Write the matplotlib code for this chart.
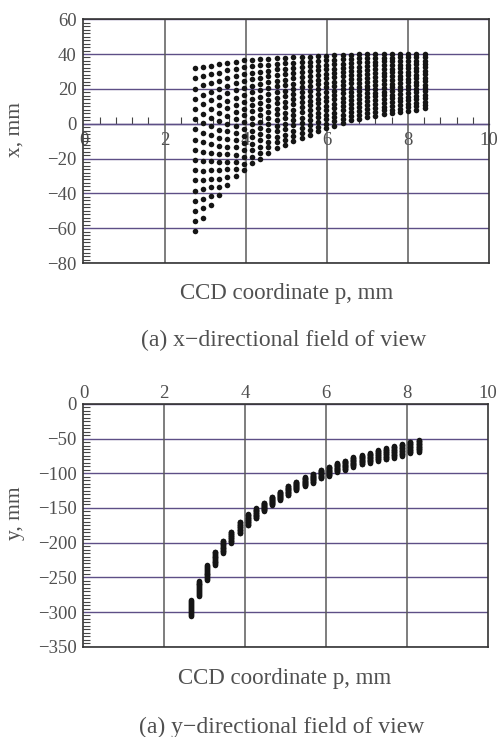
import numpy as np
import matplotlib
matplotlib.use("Agg")
import matplotlib.pyplot as plt
from matplotlib.ticker import MultipleLocator, AutoMinorLocator

# ---- data ----
# (a) x-directional field of view: one column of dots per CCD position p
p_x = [2.74, 2.94, 3.14, 3.35, 3.55, 3.75, 3.96, 4.16, 4.36, 4.56,
       4.77, 4.97, 5.17, 5.38, 5.58, 5.78, 5.98, 6.18, 6.39, 6.59,
       6.79, 7.00, 7.20, 7.40, 7.60, 7.81, 8.01, 8.21, 8.41]
x_top = [31.9, 32.8, 33.4, 34.0, 35.0, 35.5, 36.3, 36.7, 37.0, 37.3,
         37.6, 37.9, 38.1, 38.2, 38.5, 38.7, 38.9, 39.2, 39.4, 39.6,
         39.8, 40.0, 40.1, 40.1, 40.1, 40.1, 40.1, 40.1, 40.1]
x_bot = [-61.8, -54.0, -46.5, -40.8, -35.0, -30.0, -26.8, -22.6, -20.3, -17.0,
         -14.0, -12.5, -10.0, -8.0, -6.3, -4.4, -2.5, -1.2, 0.3, 1.9,
         2.6, 3.8, 4.5, 5.5, 6.0, 6.6, 7.4, 8.0, 8.8]

# (b) y-directional field of view: short bar of points per CCD position p
p_y = [2.66, 2.86, 3.06, 3.26, 3.46, 3.66, 3.87, 4.07, 4.27, 4.47,
       4.67, 4.87, 5.07, 5.27, 5.48, 5.68, 5.88, 6.08, 6.28, 6.48,
       6.68, 6.89, 7.09, 7.29, 7.49, 7.69, 7.89, 8.09, 8.30]
y_top = [-282.7, -254.8, -232.7, -213.0, -197.0, -184.0, -169.7, -158.7, -150.5, -142.3,
         -133.7, -126.4, -118.0, -112.0, -105.8, -101.0, -95.0, -90.4, -85.6, -81.7,
         -77.0, -73.6, -71.0, -66.3, -64.0, -60.6, -57.7, -54.3, -52.0]
y_bot = [-305.8, -276.9, -253.8, -232.0, -215.0, -200.0, -186.5, -175.0, -165.0, -153.8,
         -145.7, -138.5, -131.5, -124.0, -118.3, -113.5, -107.0, -103.8, -98.0, -95.0,
         -90.4, -87.0, -84.6, -81.7, -79.8, -77.4, -75.0, -71.0, -68.8]

n_rows = 17  # CCD rows per column

x_ticks = [0, 2, 4, 6, 8, 10]
xdir_ticks = [60, 40, 20, 0, -20, -40, -60, -80]
ydir_ticks = [0, -50, -100, -150, -200, -250, -300, -350]

plt.rcParams['font.family'] = ['Liberation Serif', 'DejaVu Serif']
plt.rcParams['axes.unicode_minus'] = True

txt_col = '#505050'
hgrid_col = '#5d4f86'
vgrid_col = '#5a5a5a'
tick_fs = 13.5

fig = plt.figure(figsize=(4.97, 7.37), dpi=100)


def style_axes(ax, yticks, yminor):
    ax.set_yticks(yticks)
    ax.yaxis.set_minor_locator(MultipleLocator(yminor))
    ax.set_xticks(x_ticks)
    ax.tick_params(axis='y', which='major', length=0, pad=5,
                   labelsize=tick_fs, labelcolor=txt_col)
    ax.tick_params(axis='y', which='minor', direction='in', length=5,
                   width=0.8, color='#444444')
    ax.tick_params(axis='x', which='both', length=0)
    for y in yticks:
        ax.axhline(y, color=hgrid_col, lw=1.0, zorder=1)
    for x in x_ticks[1:-1]:
        ax.axvline(x, color=vgrid_col, lw=1.1, zorder=1)
    for s in ax.spines.values():
        s.set_color('#333333')
        s.set_linewidth(1.2)


# ---- (a) x-direction ----
ax1 = fig.add_axes([0.168, 0.643, 0.816, 0.331])
px, xx = [], []
for p, t, b in zip(p_x, x_top, x_bot):
    px.extend([p] * n_rows)
    xx.extend(np.linspace(t, b, n_rows))
ax1.scatter(px, xx, s=16, color='#151515', linewidths=0, zorder=3)
ax1.set_xlim(0, 10)
ax1.set_ylim(-80, 60)
style_axes(ax1, xdir_ticks, 2)
ax1.set_xticklabels([])

# p-axis labels sit on the x = 0 line
zero_pos = (0 - (-80)) / (60 - (-80))
sec = ax1.secondary_xaxis(zero_pos)
sec.set_alignment('bottom')
sec.set_xticks(x_ticks)
sec.xaxis.set_minor_locator(AutoMinorLocator(5))
sec.tick_params(which='major', length=0, pad=6, labelsize=tick_fs, labelcolor=txt_col)
sec.tick_params(which='minor', direction='in', length=5, width=0.8, color='#444444')
sec.spines['bottom'].set_color(hgrid_col)
sec.spines['bottom'].set_linewidth(1.0)

ax1.set_ylabel('x, mm', fontsize=15.5, color=txt_col)
ax1.yaxis.set_label_coords(-0.145, 0.546)

fig.text(0.577, 0.6024, 'CCD coordinate p, mm', fontsize=16.5,
         color=txt_col, ha='center', va='center')
fig.text(0.571, 0.5387, '(a) x\u2212directional field of view', fontsize=17,
         color=txt_col, ha='center', va='center')

# ---- (b) y-direction ----
ax2 = fig.add_axes([0.168, 0.1225, 0.813, 0.3295])
py, yy = [], []
for p, t, b in zip(p_y, y_top, y_bot):
    py.extend([p] * n_rows)
    yy.extend(np.linspace(t, b, n_rows))
ax2.scatter(py, yy, s=16, color='#151515', linewidths=0, zorder=3)
ax2.set_xlim(0, 10)
ax2.set_ylim(-350, 0)
style_axes(ax2, ydir_ticks, 5)
ax2.xaxis.tick_top()
ax2.tick_params(axis='x', which='both', length=0, pad=1,
                labelsize=tick_fs, labelcolor=txt_col)

ax2.set_ylabel('y, mm', fontsize=15.5, color=txt_col)
ax2.yaxis.set_label_coords(-0.146, 0.548)

fig.text(0.572, 0.080, 'CCD coordinate p, mm', fontsize=16.5,
         color=txt_col, ha='center', va='center')
fig.text(0.567, 0.0136, '(a) y\u2212directional field of view', fontsize=17,
         color=txt_col, ha='center', va='center')

fig.savefig('out.png', dpi=100)
